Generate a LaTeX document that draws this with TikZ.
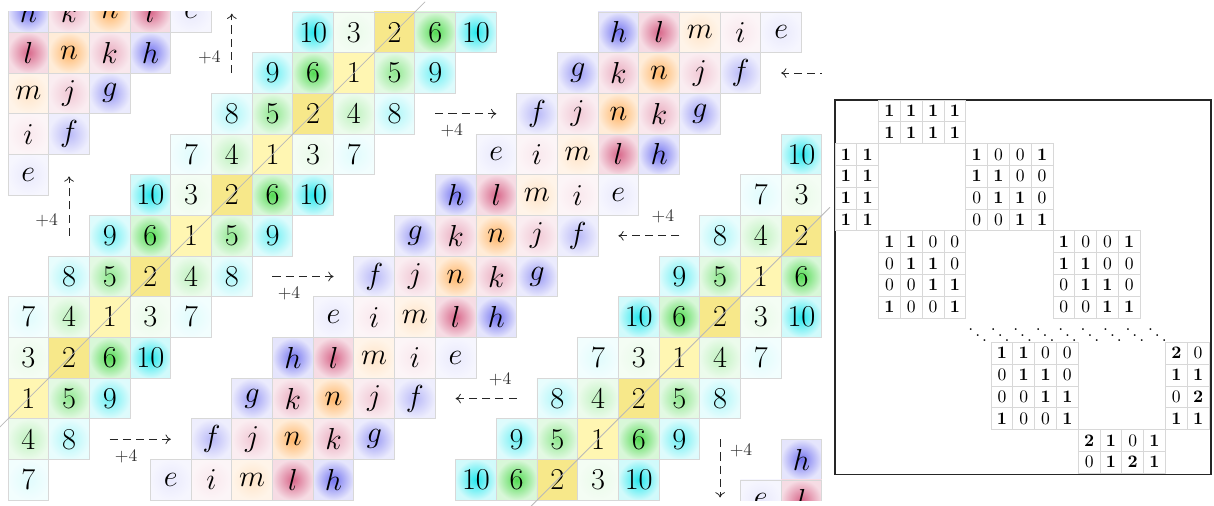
\documentclass[tikz,border=0pt]{standalone}
\usepackage{amsmath}
\usepackage{tikz}
\usetikzlibrary{arrows.meta}
\definecolor{ccyan}{RGB}{0,228,235}
\definecolor{cgreen}{RGB}{40,210,40}
\definecolor{cblue}{RGB}{70,70,235}
\definecolor{crose}{RGB}{205,60,105}
\definecolor{corange}{RGB}{255,150,40}
\definecolor{cone}{RGB}{255,246,178}
\definecolor{ctwo}{RGB}{247,232,138}
\definecolor{gridgray}{RGB}{216,216,216}
\tikzset{
  cellline/.style={draw=gridgray, line width=0.5pt},
  diag/.style={draw=gray!55, line width=0.45pt},
  plusarrow/.style={draw=black!85, line width=0.45pt, dash pattern=on 4.6pt off 2.9pt, -{To[length=3pt,width=5.5pt]}},
  pluslabel/.style={font=\normalsize, text=black!80, inner sep=1pt},
  panelframe/.style={draw=black!85, line width=0.6pt},
  n1/.style={inner color=cone, outer color=cone},
  n2/.style={inner color=ctwo, outer color=ctwo},
  n3/.style={inner color=cgreen!10, outer color=cgreen!5},
  n4/.style={inner color=cgreen!30, outer color=cgreen!9},
  n5/.style={inner color=cgreen!52, outer color=cgreen!13},
  n6/.style={inner color=cgreen!80, outer color=cgreen!18},
  n7/.style={inner color=ccyan!12, outer color=ccyan!5},
  n8/.style={inner color=ccyan!32, outer color=ccyan!9},
  n9/.style={inner color=ccyan!58, outer color=ccyan!13},
  n10/.style={inner color=ccyan!85, outer color=ccyan!18},
  le/.style={inner color=cblue!12, outer color=cblue!5},
  lf/.style={inner color=cblue!38, outer color=cblue!9},
  lg/.style={inner color=cblue!55, outer color=cblue!11},
  lh/.style={inner color=cblue!75, outer color=cblue!14},
  li/.style={inner color=crose!12, outer color=crose!5},
  lj/.style={inner color=crose!28, outer color=crose!9},
  lk/.style={inner color=crose!42, outer color=crose!12},
  ll/.style={inner color=crose!78, outer color=crose!18},
  lm/.style={inner color=corange!25, outer color=corange!10},
  ln/.style={inner color=corange!70, outer color=corange!18}
}

\begin{document}
\begin{tikzpicture}[x=0.02cm, y=-0.02cm, font=\LARGE]
\useasboundingbox (0,0) rectangle (1214,506);
\begin{scope}[shift={(8,12)}, x=0.814cm, y=-0.814cm]
\begin{scope}
\clip (0,0) rectangle (20,12);
\foreach \r in {0,...,11} {
  \pgfmathtruncatemacro\pp{mod(\r,4)}
  \ifcase\pp \def\pat{10,3,2,6,10}\or \def\pat{9,6,1,5,9}\or \def\pat{8,5,2,4,8}\or \def\pat{7,4,1,3,7}\fi
  \foreach \v [count=\k from 0] in \pat {
    \pgfmathsetmacro\cx{7-\r+\k}
    \shade[n\v] (\cx,\r) rectangle ++(1,1);
    \draw[cellline] (\cx,\r) rectangle ++(1,1);
    \node (a-\r-\k) at (\cx+0.5,\r+0.5) {$\v$};
  }
}
\foreach \r in {3,...,11} {
  \pgfmathtruncatemacro\pp{mod(\r,4)}
  \ifcase\pp \def\pat{7,3,1,4,7}\or \def\pat{8,4,2,5,8}\or \def\pat{9,5,1,6,9}\or \def\pat{10,6,2,3,10}\fi
  \foreach \v [count=\k from 0] in \pat {
    \pgfmathsetmacro\cx{22-\r+\k}
    \shade[n\v] (\cx,\r) rectangle ++(1,1);
    \draw[cellline] (\cx,\r) rectangle ++(1,1);
    \node (b-\r-\k) at (\cx+0.5,\r+0.5) {$\v$};
  }
}
\foreach \r in {0,...,11} {
  \pgfmathtruncatemacro\pp{mod(\r,4)}
  \ifcase\pp \def\pat{h,l,m,i,e}\or \def\pat{g,k,n,j,f}\or \def\pat{f,j,n,k,g}\or \def\pat{e,i,m,l,h}\fi
  \foreach \v [count=\k from 0] in \pat {
    \pgfmathsetmacro\cx{14.5-\r+\k}
    \shade[l\v] (\cx,\r) rectangle ++(1,1);
    \draw[cellline] (\cx,\r) rectangle ++(1,1);
    \node (s-\r-\k) at (\cx+0.5,\r+0.5) {$\v$};
  }
}
\foreach \c in {0,...,4} {
  \pgfmathtruncatemacro\pp{mod(\c,4)}
  \ifcase\pp \def\pat{h,l,m,i,e}\or \def\pat{g,k,n,j,f}\or \def\pat{f,j,n,k,g}\or \def\pat{e,i,m,l,h}\fi
  \foreach \v [count=\k from 0] in \pat {
    \pgfmathsetmacro\cy{\k-\c-0.5}
    \shade[l\v] (\c,\cy) rectangle ++(1,1);
    \draw[cellline] (\c,\cy) rectangle ++(1,1);
    \node (t-\c-\k) at (\c+0.5,\cy+0.5) {$\v$};
  }
}
\foreach \c in {18,19} {
  \pgfmathtruncatemacro\pp{mod(\c+1,4)}
  \ifcase\pp \def\pat{h,l,m,i,e}\or \def\pat{g,k,n,j,f}\or \def\pat{f,j,n,k,g}\or \def\pat{e,i,m,l,h}\fi
  \foreach \v [count=\k from 0] in \pat {
    \pgfmathsetmacro\cy{\k-\c+29.5}
    \shade[l\v] (\c,\cy) rectangle ++(1,1);
    \draw[cellline] (\c,\cy) rectangle ++(1,1);
    \node (w-\c-\k) at (\c+0.5,\cy+0.5) {$\v$};
  }
}
\coordinate (u1s) at (5.5,1.5);
\coordinate (u1e) at (5.5,0.04);
\coordinate (u2s) at (1.5,5.5);
\coordinate (u2e) at (1.5,4.04);
\coordinate (r1s) at (10.5,2.5);
\coordinate (r1e) at (12,2.5);
\coordinate (r2s) at (6.5,6.5);
\coordinate (r2e) at (8,6.5);
\coordinate (r3s) at (2.5,10.5);
\coordinate (r3e) at (4,10.5);
\coordinate (g1s) at (20.8,1.5);
\coordinate (g1e) at (19,1.5);
\coordinate (g2s) at (16.5,5.5);
\coordinate (g2e) at (15,5.5);
\coordinate (g3s) at (12.5,9.5);
\coordinate (g3e) at (11,9.5);
\coordinate (d1s) at (17.5,10.5);
\coordinate (d1e) at (17.5,11.93);
\draw[plusarrow] (u1s) -- (u1e) node[pluslabel, pos=0.26, left=0.18cm] (q1) {$+4$};
\draw[plusarrow] (u2s) -- (u2e) node[pluslabel, pos=0.26, left=0.18cm] (q2) {$+4$};
\draw[plusarrow] (r1s) -- (r1e) node[pluslabel, pos=0.27, below=0.17cm] (q3) {$+4$};
\draw[plusarrow] (r2s) -- (r2e) node[pluslabel, pos=0.27, below=0.17cm] (q4) {$+4$};
\draw[plusarrow] (r3s) -- (r3e) node[pluslabel, pos=0.27, below=0.17cm] (q5) {$+4$};
\draw[plusarrow] (g1s) -- (g1e);
\draw[plusarrow] (g2s) -- (g2e) node[pluslabel, pos=0.27, above=0.21cm] (q6) {$+4$};
\draw[plusarrow] (g3s) -- (g3e) node[pluslabel, pos=0.27, above=0.21cm] (q7) {$+4$};
\draw[plusarrow] (d1s) -- (d1e) node[pluslabel, pos=0.2, right=0.15cm] (q8) {$+4$};
\end{scope}
\coordinate (k1a) at (-0.22,10.22);
\coordinate (k1b) at (10.25,-0.25);
\coordinate (k2a) at (12.85,12.15);
\coordinate (k2b) at (20.2,4.8);
\draw[diag] (k1a) -- (k1b);
\draw[diag] (k2a) -- (k2b);
\end{scope}

\begin{scope}[shift={(835,100)}, x=0.436cm, y=-0.436cm, font=\normalsize, every node/.style={inner sep=1pt}]
\draw[panelframe] (0,0) rectangle (17.25,17.2);
\foreach \bx/\by/\m [count=\nb] in {2/0/{{1,1,1,1},{1,1,1,1}}, 0/2/{{1,1},{1,1},{1,1},{1,1}}, 6/2/{{1,0,0,1},{1,1,0,0},{0,1,1,0},{0,0,1,1}}, 2/6/{{1,1,0,0},{0,1,1,0},{0,0,1,1},{1,0,0,1}}, 10/6/{{1,0,0,1},{1,1,0,0},{0,1,1,0},{0,0,1,1}}, 7.16/11.12/{{1,1,0,0},{0,1,1,0},{0,0,1,1},{1,0,0,1}}, 15.16/11.12/{{2,0},{1,1},{0,2},{1,1}}, 11.16/15.12/{{2,1,0,1},{0,1,2,1}}} {
  \foreach \row [count=\j from 0] in \m {
    \foreach \v [count=\i from 0] in \row {
      \draw[cellline] (\bx+\i,\by+\j) rectangle ++(1,1);
      \ifnum\v=0
        \node (m\nb-\j-\i) at (\bx+\i+0.5,\by+\j+0.5) {$0$};
      \else
        \node (m\nb-\j-\i) at (\bx+\i+0.5,\by+\j+0.5) {$\mathbf{\v}$};
      \fi
    }
  }
}
\foreach \k in {0,...,8} {
  \node (dd-\k) at (6.55+1.03*\k,10.55) {$\ddots$};
}
\end{scope}
\end{tikzpicture}
\end{document}
